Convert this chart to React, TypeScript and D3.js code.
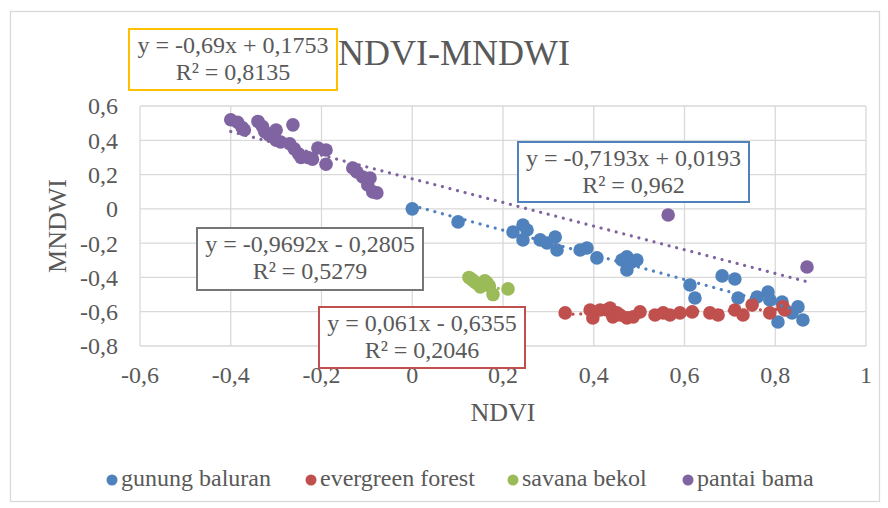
import React from "react";
import * as d3 from "d3";

const W = 888;
const H = 508;

const xTicks = [-0.6, -0.4, -0.2, 0, 0.2, 0.4, 0.6, 0.8, 1];
const yTicks = [-0.8, -0.6, -0.4, -0.2, 0, 0.2, 0.4, 0.6];

const seriesNames = ["gunung baluran", "evergreen forest", "savana bekol", "pantai bama"];
const seriesColors = ["#4F81BD", "#C0504D", "#9BBB59", "#8064A2"];

const gunungBaluran: [number, number][] = [
  [0.0, 0.0], [0.101, -0.076], [0.222, -0.135], [0.244, -0.094], [0.253, -0.123],
  [0.244, -0.181], [0.282, -0.181], [0.297, -0.199], [0.315, -0.164], [0.319, -0.24],
  [0.37, -0.24], [0.385, -0.228], [0.407, -0.286], [0.462, -0.298], [0.473, -0.356],
  [0.473, -0.28], [0.484, -0.31], [0.495, -0.298], [0.612, -0.444], [0.623, -0.52],
  [0.683, -0.391], [0.711, -0.409], [0.718, -0.52], [0.76, -0.514], [0.784, -0.485],
  [0.788, -0.531], [0.815, -0.543], [0.806, -0.66], [0.85, -0.572], [0.861, -0.648],
  [0.837, -0.607],
];

const evergreenForest: [number, number][] = [
  [0.337, -0.607], [0.392, -0.59], [0.398, -0.636], [0.414, -0.59], [0.429, -0.59],
  [0.436, -0.578], [0.442, -0.63], [0.451, -0.607], [0.458, -0.619], [0.473, -0.636],
  [0.487, -0.63], [0.502, -0.601], [0.535, -0.619], [0.553, -0.607], [0.568, -0.619],
  [0.59, -0.607], [0.617, -0.601], [0.656, -0.607], [0.674, -0.619], [0.711, -0.59],
  [0.729, -0.619], [0.749, -0.56], [0.788, -0.607], [0.817, -0.572], [0.821, -0.59],
];

const savanaBekol: [number, number][] = [
  [0.125, -0.4], [0.13, -0.41], [0.135, -0.42], [0.14, -0.43], [0.145, -0.44],
  [0.15, -0.455], [0.155, -0.44], [0.16, -0.42], [0.165, -0.432], [0.17, -0.45],
  [0.178, -0.5], [0.211, -0.467],
];

const pantaiBama: [number, number][] = [
  [-0.4, 0.52], [-0.385, 0.505], [-0.375, 0.475], [-0.37, 0.46], [-0.34, 0.51],
  [-0.33, 0.48], [-0.325, 0.45], [-0.315, 0.43], [-0.3, 0.46], [-0.3, 0.4],
  [-0.29, 0.39], [-0.27, 0.38], [-0.263, 0.49], [-0.26, 0.35], [-0.25, 0.32],
  [-0.245, 0.3], [-0.23, 0.3], [-0.22, 0.29], [-0.208, 0.355], [-0.19, 0.343],
  [-0.19, 0.26], [-0.131, 0.238], [-0.122, 0.215], [-0.109, 0.186], [-0.093, 0.18],
  [-0.098, 0.139], [-0.087, 0.099], [-0.078, 0.093], [0.564, -0.036], [0.87, -0.339],
];

const seriesData = [gunungBaluran, evergreenForest, savanaBekol, pantaiBama];

const trendSlopes = [-0.7193, 0.061, -0.9692, -0.69];
const trendIntercepts = [0.0193, -0.6355, -0.2805, 0.1753];
const trendEqLine1 = ["y = -0,7193x + 0,0193", "y = 0,061x - 0,6355", "y = -0,9692x - 0,2805", "y = -0,69x + 0,1753"];
const trendEqLine2 = ["R² = 0,962", "R² = 0,2046", "R² = 0,5279", "R² = 0,8135"];
const boxColors = ["#4F81BD", "#C0504D", "#767676", "#FFC000"];

// label box layout (left, top, width, height)
const boxLayout: [number, number, number, number][] = [
  [518, 142, 231, 60],
  [319, 307, 206, 61],
  [197, 228, 226, 62],
  [129, 29, 208, 61],
];

const FONT = "'Liberation Serif', 'Times New Roman', serif";
const TXT = "#595959";

const fmt = (v: number) => String(+v.toFixed(1)).replace(".", ",");

export default function App() {
  const x = d3.scaleLinear().domain([-0.6, 1]).range([140, 866]);
  const y = d3.scaleLinear().domain([-0.8, 0.6]).range([346, 106]);
  const line = d3
    .line<[number, number]>()
    .x((d) => x(d[0]))
    .y((d) => y(d[1]));

  const legendX = [112, 311, 513, 688];

  return (
    <svg
      width={W}
      height={H}
      style={{ position: "absolute", left: 0, top: 0, background: "#fff" }}
      fontFamily={FONT}
    >
      <rect x={0} y={0} width={W} height={H} fill="#fff" />
      <rect x={10.5} y={11.5} width={869} height={490} fill="#fff" stroke="#D9D9D9" strokeWidth={1.3} />

      {/* gridlines */}
      {yTicks.map((t) => (
        <line key={"gy" + t} x1={x(-0.6)} x2={x(1)} y1={y(t)} y2={y(t)} stroke="#D9D9D9" strokeWidth={1.3} />
      ))}
      {xTicks.map((t) => (
        <line key={"gx" + t} x1={x(t)} x2={x(t)} y1={y(0.6)} y2={y(-0.8)} stroke="#D9D9D9" strokeWidth={1.3} />
      ))}

      {/* tick labels */}
      {yTicks.map((t) => (
        <text key={"ty" + t} x={118} y={y(t)} dy="0.35em" textAnchor="end" fontSize={24} fill={TXT}>
          {fmt(t)}
        </text>
      ))}
      {xTicks.map((t) => (
        <text key={"tx" + t} x={x(t)} y={383} textAnchor="middle" fontSize={24} fill={TXT}>
          {fmt(t)}
        </text>
      ))}

      {/* axis titles */}
      <text x={503} y={421} textAnchor="middle" fontSize={26} fill={TXT}>
        NDVI
      </text>
      <text
        transform={`translate(57,226) rotate(-90)`}
        textAnchor="middle"
        dy="0.35em"
        fontSize={26}
        fill={TXT}
      >
        MNDWI
      </text>

      {/* title */}
      <text x={454} y={65} textAnchor="middle" fontSize={36} fill={TXT}>
        NDVI-MNDWI
      </text>

      {/* series */}
      {seriesData.map((data, i) => (
        <g key={"s" + i}>
          {data.map((d, j) => (
            <circle key={j} cx={x(d[0])} cy={y(d[1])} r={6.8} fill={seriesColors[i]} />
          ))}
        </g>
      ))}

      {/* trendlines */}
      {seriesData.map((data, i) => {
        const [x0, x1] = d3.extent(data, (d) => d[0]) as [number, number];
        const pts: [number, number][] = [
          [x0, trendSlopes[i] * x0 + trendIntercepts[i]],
          [x1, trendSlopes[i] * x1 + trendIntercepts[i]],
        ];
        return (
          <path
            key={"t" + i}
            d={line(pts) || ""}
            fill="none"
            stroke={seriesColors[i]}
            strokeWidth={3.2}
            strokeLinecap="round"
            strokeDasharray="0.01 7.8"
          />
        );
      })}

      {/* equation boxes */}
      {boxLayout.map((b, i) => (
        <g key={"b" + i}>
          <rect x={b[0]} y={b[1]} width={b[2]} height={b[3]} fill="#fff" stroke={boxColors[i]} strokeWidth={2} />
          <text x={b[0] + b[2] / 2} y={b[1] + 24} textAnchor="middle" fontSize={24} fill={TXT}>
            {trendEqLine1[i]}
          </text>
          <text x={b[0] + b[2] / 2} y={b[1] + 51} textAnchor="middle" fontSize={24} fill={TXT}>
            {trendEqLine2[i]}
          </text>
        </g>
      ))}

      {/* legend */}
      {seriesNames.map((n, i) => (
        <g key={"l" + i}>
          <circle cx={legendX[i]} cy={480} r={5.5} fill={seriesColors[i]} />
          <text x={legendX[i] + 9} y={486} fontSize={24} fill={TXT}>
            {n}
          </text>
        </g>
      ))}
    </svg>
  );
}
